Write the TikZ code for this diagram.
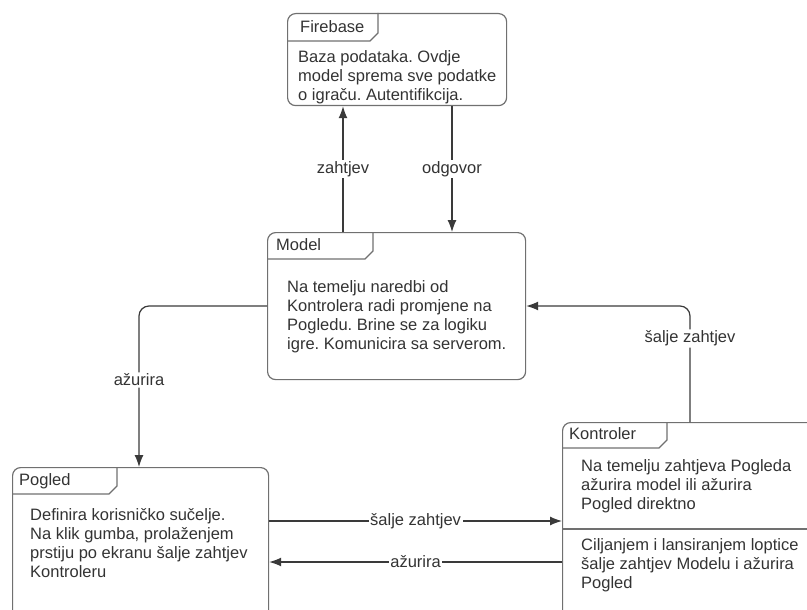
\documentclass[tikz,border=0pt]{standalone}
\usepackage{fontspec}
\setmainfont{Liberation Sans}
\usetikzlibrary{arrows.meta}
\definecolor{txtgray}{HTML}{333333}
\definecolor{boxgray}{HTML}{707070}
\definecolor{linegray}{HTML}{3A3A3A}
\frenchspacing
\begin{document}
\begin{tikzpicture}[x=1pt,y=-1pt,>={Latex[length=12pt,width=9pt]},
		box/.style={draw=boxgray,line width=1.2pt,rounded corners=8pt,anchor=north west,inner sep=0pt},
		tab/.style={draw=boxgray,line width=1.2pt},
		txt/.style={anchor=north west,align=left,inner sep=0pt,text=txtgray,font=\fontsize{16.5}{19}\selectfont},
		lbl/.style={fill=white,inner sep=1.5pt,text=txtgray,font=\fontsize{16.5}{19}\selectfont},
		conn/.style={draw=linegray,line width=1.2pt}]
			\clip (0,0) rectangle (807,610);
			\def\tabh{27}\def\cut{8}
			% boxes
			\node[box,minimum width=219,minimum height=92] (firebase) at (287,13) {};
			\node[box,minimum width=258,minimum height=147] (model) at (267,232) {};
			\node[box,minimum width=256,minimum height=180] (pogled) at (12,467) {};
			\node[box,minimum width=280,minimum height=220] (kontroler) at (562,422) {};
			\draw[tab] (firebase.north west) ++(0,\tabh+1) -- ++(91-\cut,0) -- ++(\cut,-\cut) -- ++(0,-\tabh-1+\cut);
			\draw[tab] (model.north west) ++(0,\tabh) -- ++(106-\cut,0) -- ++(\cut,-\cut) -- ++(0,-\tabh+\cut);
			\draw[tab] (pogled.north west) ++(0,\tabh) -- ++(105-\cut,0) -- ++(\cut,-\cut) -- ++(0,-\tabh+\cut);
			\draw[tab] (kontroler.north west) ++(0,\tabh-1) -- ++(105-\cut,0) -- ++(\cut,-\cut) -- ++(0,-\tabh+1+\cut);
			\draw[tab] ([yshift=-107pt]kontroler.north west) -- ([yshift=-107pt]kontroler.north east);
			% texts
			\node[txt] (firebasetitle) at (300,20) {Firebase};
			\node[txt] (firebasetext) at (298,50) {Baza podataka. Ovdje\\model sprema sve podatke\\o igraču. Autentifikcija.};
			\node[txt] (modeltitle) at (276,238) {Model};
			\node[txt] (modeltext) at (287,280) {Na temelju naredbi od\\Kontrolera radi promjene na\\Pogledu. Brine se za logiku\\igre. Komunicira sa serverom.};
			\node[txt] (pogledtitle) at (19,473) {Pogled};
			\node[txt] (pogledtext) at (30,508) {Definira korisničko sučelje.\\Na klik gumba, prolaženjem\\prstiju po ekranu šalje zahtjev\\Kontroleru};
			\node[txt] (kontrolertitle) at (569,427) {Kontroler};
			\node[txt] (kontrolertexta) at (581,459) {Na temelju zahtjeva Pogleda\\ažurira model ili ažurira\\Pogled direktno};
			\node[txt] (kontrolertextb) at (581,538) {Ciljanjem i lansiranjem loptice\\šalje zahtjev Modelu i ažurira\\Pogled};
			% connectors
			\draw[conn,->] ([xshift=76pt]model.north west) -- node[lbl]{zahtjev} ([xshift=56pt]firebase.south west);
			\draw[conn,->] ([xshift=165pt]firebase.south west) -- node[lbl]{odgovor} ([xshift=185pt]model.north west);
			\draw[conn,->,rounded corners=10pt] ([yshift=-74pt]model.north west) -| node[lbl,pos=0.73]{ažurira} ([xshift=127pt]pogled.north west);
			\draw[conn,->,rounded corners=10pt] ([xshift=128pt]kontroler.north west) |- node[lbl,pos=0.36]{šalje zahtjev} ([yshift=-74pt]model.north east);
			\draw[conn,->] ([yshift=-54pt]pogled.north east) -- node[lbl]{šalje zahtjev} ([yshift=-99pt]kontroler.north west);
			\draw[conn,->] ([yshift=-140pt]kontroler.north west) -- node[lbl]{ažurira} ([yshift=-95pt]pogled.north east);
		\end{tikzpicture}
\end{document}
